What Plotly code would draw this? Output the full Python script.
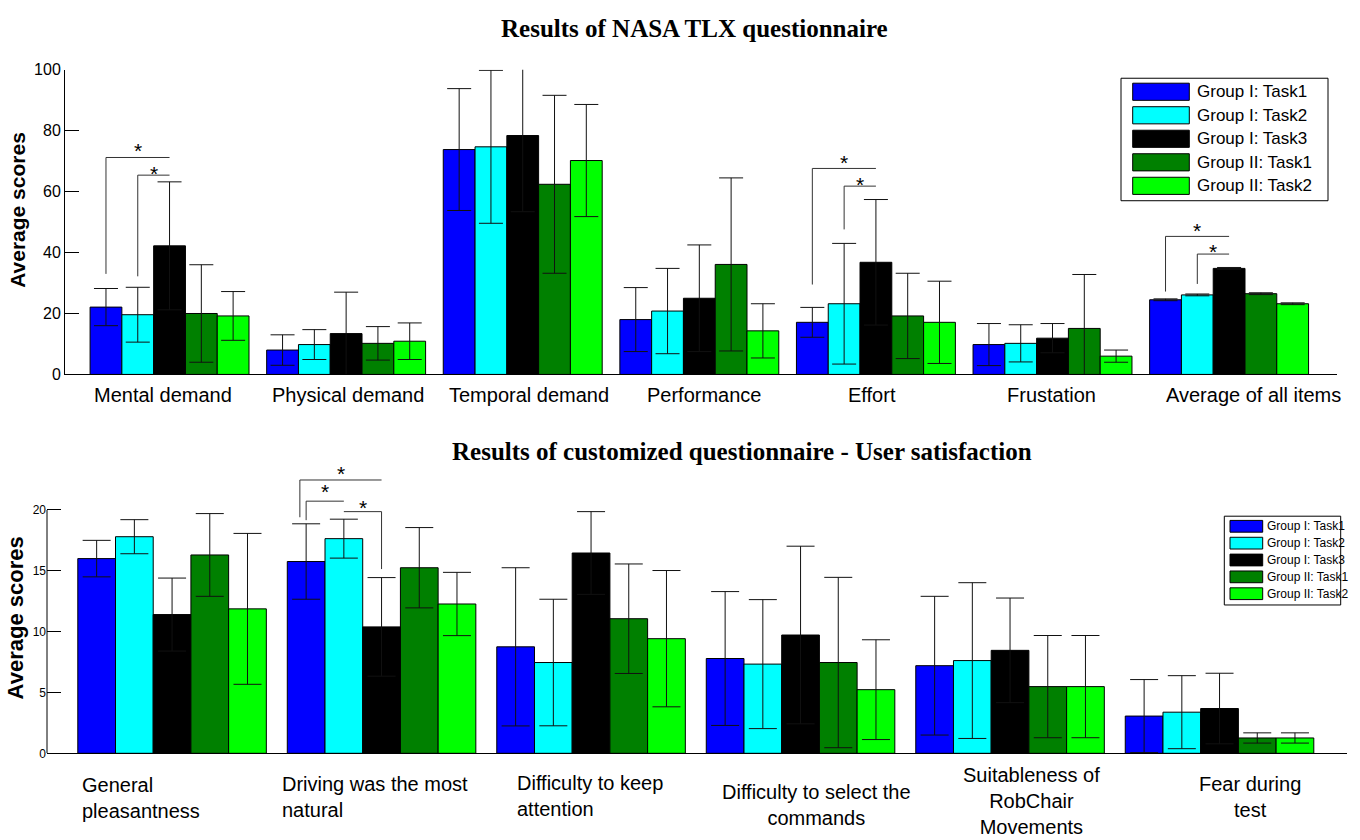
import plotly.graph_objects as go

FIG_W, FIG_H = 1360, 840
SANS = "Liberation Sans, Arial, sans-serif"
NARROW = "Liberation Sans Narrow, Arial Narrow, Liberation Sans, sans-serif"
SERIF = "Liberation Serif, Times New Roman, serif"

# ---------------- data ----------------
series_names = ["Group I: Task1", "Group I: Task2", "Group I: Task3",
                "Group II: Task1", "Group II: Task2"]
series_colors = ["#0000FF", "#00FFFF", "#000000", "#008000", "#00FF00"]

# NASA TLX questionnaire
tlx_items = ["Mental demand", "Physical demand", "Temporal demand", "Performance",
             "Effort", "Frustation", "Average of all items"]
tlx_g1_task1 = [22.1, 8.0, 73.8, 18.0, 17.1, 9.8, 24.5]
tlx_g1_task2 = [19.6, 9.8, 74.7, 20.8, 23.2, 10.2, 26.1]
tlx_g1_task3 = [42.2, 13.4, 78.4, 25.0, 36.8, 11.9, 34.8]
tlx_g2_task1 = [20.0, 10.2, 62.4, 36.1, 19.2, 15.1, 26.5]
tlx_g2_task2 = [19.2, 10.9, 70.2, 14.3, 17.1, 6.0, 23.2]
tlx_g1_task1_sd = [6.1, 5.0, 20.0, 10.5, 4.9, 6.9, 0.3]
tlx_g1_task2_sd = [9.0, 4.9, 25.1, 14.0, 19.8, 6.1, 0.3]
tlx_g1_task3_sd = [21.0, 13.6, 25.0, 17.5, 20.6, 4.8, 0.3]
tlx_g2_task1_sd = [16.0, 5.5, 29.2, 28.4, 14.0, 17.7, 0.3]
tlx_g2_task2_sd = [8.0, 6.0, 18.4, 8.9, 13.5, 2.0, 0.3]
tlx_ticks = [0, 20, 40, 60, 80, 100]

# Customized questionnaire - user satisfaction
sat_items = ["General<br>pleasantness", "Driving was the most<br>natural",
             "Difficulty to keep<br>attention", "Difficulty to select the<br>commands",
             "Suitableness of<br>RobChair<br>Movements", "Fear during<br>test"]
sat_g1_task1 = [16.0, 15.76, 8.75, 7.79, 7.2, 3.06]
sat_g1_task2 = [17.8, 17.64, 7.46, 7.33, 7.62, 3.38]
sat_g1_task3 = [11.4, 10.39, 16.46, 9.72, 8.46, 3.68]
sat_g2_task1 = [16.3, 15.25, 11.06, 7.46, 5.48, 1.26]
sat_g2_task2 = [11.87, 12.27, 9.42, 5.23, 5.48, 1.26]
sat_g1_task1_sd = [1.5, 3.1, 6.5, 5.5, 5.7, 3.0]
sat_g1_task2_sd = [1.4, 1.6, 5.2, 5.3, 6.4, 3.0]
sat_g1_task3_sd = [3.0, 4.05, 3.4, 7.3, 4.3, 2.9]
sat_g2_task1_sd = [3.4, 3.3, 4.5, 7.0, 4.2, 0.42]
sat_g2_task2_sd = [6.2, 2.6, 5.6, 4.1, 4.2, 0.42]
sat_ticks = [0, 5, 10, 15, 20]

# significance brackets: (group, from bar, to bar, left leg, top, right leg, star height)
tlx_sig = [
    (0, 0, 2, 33.0, 71.2, None, 74.7),
    (0, 1, 2, 32.2, 65.4, None, 67.4),
    (4, 0, 2, 29.5, 67.6, None, 71.0),
    (4, 1, 2, 47.6, 61.8, None, 63.7),
    (6, 0, 2, 27.2, 45.3, None, 48.4),
    (6, 1, 2, 29.7, 39.5, None, 41.7),
]
sat_sig = [
    (1, 0, 2, 19.4, 22.46, None, 23.3),
    (1, 0, 1, 19.16, 20.72, None, 21.85),
    (1, 1, 2, None, 19.86, 15.14, 20.5),
]

tlx_means = [tlx_g1_task1, tlx_g1_task2, tlx_g1_task3, tlx_g2_task1, tlx_g2_task2]
tlx_sds = [tlx_g1_task1_sd, tlx_g1_task2_sd, tlx_g1_task3_sd, tlx_g2_task1_sd, tlx_g2_task2_sd]
sat_means = [sat_g1_task1, sat_g1_task2, sat_g1_task3, sat_g2_task1, sat_g2_task2]
sat_sds = [sat_g1_task1_sd, sat_g1_task2_sd, sat_g1_task3_sd, sat_g2_task1_sd, sat_g2_task2_sd]


# ---------------- helpers ----------------
def px_x(p):
    return p / FIG_W


def px_y(p):
    return 1 - p / FIG_H


GROUP_W = 0.9
N_SER = len(series_names)


def bar_center(group, k):
    w = GROUP_W / N_SER
    return group - GROUP_W / 2 + w * (k + 0.5)


fig = go.Figure()

for name, color, vals, sds in zip(series_names, series_colors, tlx_means, tlx_sds):
    fig.add_trace(go.Bar(
        x=tlx_items, y=vals, name=name, xaxis="x", yaxis="y", showlegend=False,
        marker=dict(color=color, line=dict(color="black", width=1)),
        error_y=dict(type="data", array=sds, color="#111111", thickness=1, width=12),
    ))

for name, color, vals, sds in zip(series_names, series_colors, sat_means, sat_sds):
    fig.add_trace(go.Bar(
        x=sat_items, y=vals, name=name, xaxis="x2", yaxis="y2", showlegend=False,
        marker=dict(color=color, line=dict(color="black", width=1)),
        error_y=dict(type="data", array=sds, color="#111111", thickness=1, width=14),
    ))

shapes = []
annotations = []


def add_brackets(spec, xr, yr, left_nudge=None):
    for i, (g, k0, k1, yl, yt, yrt, ys) in enumerate(spec):
        x0 = bar_center(g, k0)
        if left_nudge and i in left_nudge:
            x0 += left_nudge[i]
        x1 = bar_center(g, k1)
        line = dict(color="#333333", width=1)
        if yl is not None:
            shapes.append(dict(type="line", xref=xr, yref=yr, x0=x0, x1=x0, y0=yl, y1=yt, line=line))
        shapes.append(dict(type="line", xref=xr, yref=yr, x0=x0, x1=x1, y0=yt, y1=yt, line=line))
        if yrt is not None:
            shapes.append(dict(type="line", xref=xr, yref=yr, x0=x1, x1=x1, y0=yt, y1=yrt, line=line))
        annotations.append(dict(text="*", xref=xr, yref=yr, x=(x0 + x1) / 2, y=ys,
                                showarrow=False, xanchor="center", yanchor="middle", yshift=-4,
                                font=dict(family=SANS, size=21, color="black")))


add_brackets(tlx_sig, "x", "y")
add_brackets(sat_sig, "x2", "y2", left_nudge={0: -0.03})

# y axis line of the satisfaction chart only spans the scored range
shapes.append(dict(type="line", xref="x2 domain", yref="y2", x0=0, x1=0,
                   y0=sat_ticks[0], y1=sat_ticks[-1], line=dict(color="black", width=1)))


def add_legend(box, sw_x, sw_h, row0, pitch, text_x, font):
    x0, y0, x1, y1 = box
    shapes.append(dict(type="rect", xref="paper", yref="paper",
                       x0=px_x(x0), x1=px_x(x1), y0=px_y(y1), y1=px_y(y0),
                       line=dict(color="black", width=1), fillcolor="white", layer="above"))
    for i, (name, color) in enumerate(zip(series_names, series_colors)):
        cy = row0 + i * pitch
        shapes.append(dict(type="rect", xref="paper", yref="paper",
                           x0=px_x(sw_x[0]), x1=px_x(sw_x[1]),
                           y0=px_y(cy + sw_h / 2), y1=px_y(cy - sw_h / 2),
                           line=dict(color="black", width=1), fillcolor=color, layer="above"))
        annotations.append(dict(text=name, xref="paper", yref="paper", x=px_x(text_x), y=px_y(cy),
                                xanchor="left", yanchor="middle", showarrow=False, font=font))


add_legend((1121, 71.7, 1328, 196.7), (1132.7, 1189.3), 17.5, 85.5, 24.0, 1195,
           dict(family=SANS, size=17, color="black"))
add_legend((1224.3, 518.7, 1340.7, 609.3), (1230, 1262.7), 12, 529, 17.2, 1265,
           dict(family=NARROW, size=12, color="black"))

# category labels
tlx_label_shift = [-7, 2, 6, 5, -4, -1, 24]
for i, (lab, sh) in enumerate(zip(tlx_items, tlx_label_shift)):
    annotations.append(dict(text=lab, xref="x", yref="paper", x=i, y=px_y(395), xshift=sh,
                            xanchor="center", yanchor="middle", showarrow=False,
                            font=dict(family=SANS, size=20, color="black")))

sat_label_pos = [(80, 780, "left"), (280, 779, "left"), (515, 778, "left"),
                 (816, 787, "center"), (1031, 770, "center"), (1250, 779, "center")]
for lab, (xp, yp, al) in zip(sat_items, sat_label_pos):
    annotations.append(dict(text=lab, xref="paper", yref="paper", x=px_x(xp), y=px_y(yp),
                            xanchor=al, yanchor="top", align=al, showarrow=False,
                            font=dict(family=SANS, size=20, color="black")))

# titles
annotations.append(dict(text="<b>Results of NASA TLX questionnaire</b>", xref="paper", yref="paper",
                        x=px_x(694), y=px_y(21), xanchor="center", yanchor="middle", showarrow=False,
                        font=dict(family=SERIF, size=25, color="black")))
annotations.append(dict(text="<b>Results of customized questionnaire - User satisfaction</b>",
                        xref="paper", yref="paper", x=px_x(742), y=px_y(453), xanchor="center",
                        yanchor="middle", showarrow=False,
                        font=dict(family=SERIF, size=25, color="black")))
annotations.append(dict(text="<b>Average scores</b>", xref="paper", yref="paper", x=px_x(18),
                        y=px_y(206), textangle=-90, xanchor="center", yanchor="middle",
                        showarrow=False, font=dict(family=SANS, size=21, color="black")))
annotations.append(dict(text="<b>Average scores</b>", xref="paper", yref="paper", x=px_x(15),
                        y=px_y(623), textangle=-90, xanchor="center", yanchor="middle",
                        showarrow=False, font=dict(family=SANS, size=22, color="black")))

sat_px_per_unit = (760.7 - 512.3) / 20
sat_top = 24

fig.update_layout(
    width=FIG_W, height=FIG_H, margin=dict(l=0, r=0, t=0, b=0),
    paper_bgcolor="white", plot_bgcolor="white",
    barmode="group", bargap=0.1, bargroupgap=0, showlegend=False,
    xaxis=dict(domain=[px_x(65), px_x(1337)], range=[-0.592, 6.611], showline=True,
               linecolor="black", linewidth=1, showticklabels=False, ticks="",
               showgrid=False, zeroline=False, anchor="y"),
    yaxis=dict(domain=[px_y(374), px_y(63)], range=[0, 100], tickvals=tlx_ticks,
               ticks="inside", ticklen=14, tickcolor="black", showline=True,
               linecolor="black", linewidth=1, showgrid=False, zeroline=False,
               tickfont=dict(family=SANS, size=16, color="black"), anchor="x"),
    xaxis2=dict(domain=[px_x(47), px_x(1346.7)], range=[-0.597, 5.607], showline=True,
                linecolor="black", linewidth=1, showticklabels=False, ticks="",
                showgrid=False, zeroline=False, anchor="y2"),
    yaxis2=dict(domain=[px_y(760.7), px_y(760.7 - sat_top * sat_px_per_unit)],
                range=[0, sat_top], tickvals=sat_ticks, ticks="inside", ticklen=14,
                tickcolor="black", showline=False, showgrid=False, zeroline=False,
                tickfont=dict(family=NARROW, size=12, color="black"), anchor="x2"),
    shapes=shapes, annotations=annotations,
)

fig.write_html("out.html")
